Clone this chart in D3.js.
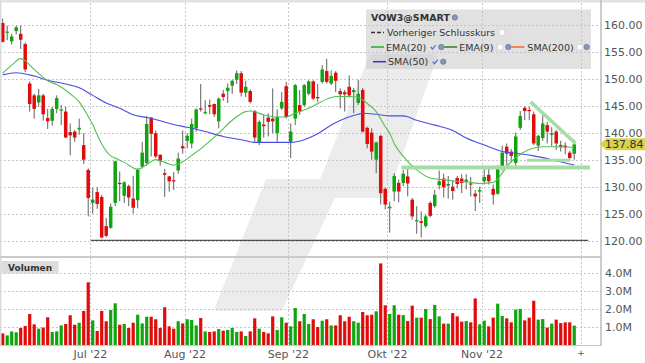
<!DOCTYPE html>
<html>
<head>
<meta charset="utf-8">
<script src="https://cdnjs.cloudflare.com/ajax/libs/d3/7.8.5/d3.min.js"></script>
<style>
  body { margin: 0; background: #fff; }
  svg { display: block; font-family: "DejaVu Sans", Verdana, sans-serif; }
</style>
</head>
<body>
<svg width="645" height="363"></svg>
<script>
// VOW3 daily candles, 3 Jun - 29 Nov 2022 (one entry per trading day)
var open = [160.3,158.6,156.9,158.8,158.3,156.4,149.1,146.9,145.6,146.9,142.7,142.2,144.4,144.1,143.9,140.1,140.2,140.6,137.7,133.1,
  127.0,129.0,128.1,122.7,122.4,127.0,130.7,128.3,130.1,127.8,127.5,133.7,134.4,142.8,139.9,135.9,132.5,131.9,131.2,133.0,137.5,
  138.5,138.0,140.8,144.5,143.7,145.1,145.3,142.1,147.2,147.7,148.7,149.8,151.0,147.4,147.7,144.0,138.2,141.5,142.8,142.6,139.9,144.5,148.6,
  138.3,142.6,145.1,145.1,147.2,149.5,146.6,149.4,151.4,149.1,151.1,147.7,147.5,148.5,147.5,145.5,147.9,140.9,140.0,135.0,139.4,129.6,
  126.0,129.1,130.7,130.7,131.9,127.6,123.6,123.6,122.7,127.0,126.4,130.3,131.5,130.2,130.0,131.6,131.5,130.9,130.6,128.7,129.1,
  131.0,132.2,129.6,128.7,133.7,137.4,136.5,134.4,140.9,144.6,144.2,143.4,137.6,139.0,141.4,139.6,140.2,137.7,137.6,136.3,136.1];
var high = [161.1,159.8,158.3,159.8,159.8,156.7,149.5,147.2,148.1,147.2,144.4,144.8,146.9,145.1,144.8,141.7,140.5,142.6,139.9,133.4,
  129.8,129.9,128.5,124.2,126.9,134.8,132.8,131.0,130.4,132.0,133.4,138.3,143.1,142.9,140.4,136.0,133.3,132.0,132.7,136.3,140.4,
  139.9,142.6,144.5,149.0,146.0,146.1,145.4,146.5,147.9,149.1,149.8,151.5,151.4,149.6,148.0,144.2,142.3,143.3,143.6,148.2,144.3,147.5,149.4,
  141.7,149.0,147.9,149.0,149.7,149.7,149.0,152.5,153.7,151.5,151.4,148.2,147.9,150.6,148.3,149.8,148.3,141.1,140.8,138.3,139.6,129.8,
  127.2,132.5,131.3,133.1,133.3,127.9,126.4,125.4,124.8,127.3,129.4,133.0,132.4,132.0,131.2,132.0,132.3,132.3,131.8,129.4,130.0,
  133.3,133.7,130.4,134.0,137.6,138.0,137.0,140.0,144.0,144.9,144.8,143.9,139.6,143.3,142.0,141.0,140.5,138.5,138.2,136.6,138.7];
var low = [156.7,157.1,156.3,158.2,155.5,151.2,143.9,142.6,144.8,142.2,140.7,141.3,143.6,141.4,139.0,135.8,138.3,139.6,134.2,124.5,
  125.0,125.9,120.4,120.6,122.2,126.4,127.3,127.0,126.4,125.0,126.0,133.4,133.9,135.6,135.3,133.9,128.1,129.1,129.4,132.4,136.1,
  137.1,137.1,140.2,143.9,143.4,143.4,142.9,140.8,145.9,145.5,147.2,149.0,146.7,146.6,145.4,138.3,137.7,139.1,139.3,139.9,138.3,144.2,142.6,
  135.3,141.4,143.3,144.8,146.9,146.0,145.7,149.1,149.1,148.8,147.5,144.5,143.9,146.5,143.6,145.1,140.0,137.1,135.0,132.5,126.7,125.8,
  121.5,127.3,127.1,130.1,128.2,123.9,121.3,120.6,122.4,124.3,126.1,129.5,128.0,127.8,127.6,129.7,128.8,129.5,128.2,125.5,127.0,
  130.4,130.4,126.7,128.5,133.0,134.0,134.5,133.7,140.5,142.3,142.3,137.7,136.6,138.5,138.0,137.5,136.8,136.5,136.0,134.8,135.0];
var close = [156.8,158.7,157.8,159.5,157.2,151.7,145.3,144.4,146.9,143.4,142.1,144.4,146.4,144.3,139.1,139.5,139.1,140.9,135.0,127.9,
  127.6,126.8,120.6,120.9,126.3,134.7,130.6,130.8,128.0,126.1,133.1,136.3,141.6,139.8,135.6,134.7,132.2,131.0,131.0,135.2,137.1,
  139.4,141.6,144.3,144.3,143.8,144.8,143.4,146.3,146.6,148.3,149.6,151.0,147.4,148.5,145.7,139.1,142.0,141.2,142.0,142.1,142.9,145.7,142.9,
  140.2,148.8,143.9,148.8,149.5,146.3,146.4,151.7,149.4,150.5,149.6,147.1,147.1,146.9,147.9,147.2,140.2,137.9,136.5,138.2,128.8,126.7,
  126.3,132.0,129.1,132.4,130.6,124.5,123.8,123.3,124.5,124.6,128.5,131.0,129.9,130.5,129.2,130.5,130.7,131.3,130.4,128.2,129.4,
  131.8,131.0,128.5,133.3,136.3,136.1,135.7,139.3,143.1,144.0,144.0,138.0,139.4,141.7,140.2,139.9,138.0,137.4,137.3,135.3,137.84];
// volume in millions
var volume = [0.64,0.53,0.75,0.70,0.94,1.05,1.71,1.14,0.90,0.96,1.53,0.72,0.75,1.08,1.16,1.64,1.12,1.23,1.88,3.46,
  1.36,0.77,1.88,1.31,1.93,2.30,1.12,1.16,0.94,1.23,1.67,1.19,1.56,1.56,1.42,0.94,2.08,1.03,0.90,1.31,1.19,
  1.42,1.38,1.08,1.49,0.75,0.72,0.75,0.88,0.79,0.83,0.94,0.72,0.75,0.50,0.75,1.47,0.90,0.72,0.64,1.58,0.83,1.53,1.23,
  1.03,2.04,1.31,1.71,1.16,1.42,0.99,1.34,1.42,1.08,1.08,1.64,1.31,1.56,1.31,1.23,1.82,1.64,1.67,1.86,4.50,2.19,
  1.71,2.19,1.67,1.65,1.32,2.17,1.51,1.51,1.99,1.43,2.21,1.58,1.18,1.18,1.76,1.58,1.29,1.32,1.25,2.57,1.14,
  1.34,1.03,1.51,2.28,1.60,1.47,1.25,1.95,1.99,1.36,1.51,2.44,1.40,1.43,0.96,1.18,1.40,1.21,1.25,1.25,1.07];

// moving averages: candle index -> value
var emaIdx = [0,2,4,5,7,10,12,15,17,19,20,21,22,24,25,27,30,32,34,36,38,40,42,44,48,51,54,55,58,61,63,65,68,70,73,74,77,79,81,83,85,86,87,89,92,95,98,101,104,106,109,110,111,112,114,117,120,123,127];
var emaVal = [151.0,152.5,153.7,153.3,151.7,149.6,148.9,147.2,145.7,143.0,141.5,139.6,137.9,135.7,135.3,134.5,133.2,134.1,135.0,134.5,134.0,134.6,135.8,137.0,139.9,142.3,143.9,144.0,143.3,142.9,142.9,143.6,144.5,145.4,146.5,146.7,146.7,146.5,145.4,143.9,141.1,139.9,138.0,135.6,133.1,131.6,131.3,131.0,130.8,130.6,130.8,131.4,132.5,133.7,135.4,136.9,137.4,137.4,137.3];
var smaIdx = [0,3,7,10,14,17,20,23,26,29,32,35,38,41,45,49,53,56,60,64,67,70,73,76,79,80,83,86,89,92,96,100,103,107,111,115,118,122,125,127];
var smaVal = [150.7,151.1,150.5,149.7,149.0,148.3,146.9,145.5,144.5,143.3,142.8,142.2,141.5,141.0,140.2,139.3,138.7,138.2,138.2,138.2,138.7,139.8,141.4,142.6,143.4,143.6,143.4,143.1,143.1,142.3,141.4,140.4,139.0,137.7,136.5,136.1,135.7,135.0,134.4,134.0];

var priceTicks = [120, 125, 130, 135, 140, 145, 150, 155, 160];
var volTicks = [1, 2, 3, 4];
var monthLabels = ["Jul '22", "Aug '22", "Sep '22", "Okt '22", "Nov '22", "+"];
var monthStart = [20, 41, 64, 86, 107, 129];

// hand drawn lines on the chart: [index0, price0, index1, price1]
var supportLine = [19.6, 120.05, 130.1, 120.05];
var rangeLine = [88.6, 133.55, 130.5, 133.55];
var shortLine = [116.5, 134.9, 126.1, 134.9];
var wedgeLine = [117.3, 145.7, 127.3, 138.0];

var svg = d3.select("svg");
var plotR = 601;
var up = "#0ea50e", down = "#e00c0c";

var x = d3.scaleLinear().domain([-0.6, 132.95]).range([0, plotR]);
var y = d3.scaleLinear().domain([117.17, 164.0]).range([256, 3]);
var yv = d3.scaleLinear().domain([0, 4.8]).range([345, 258]);

svg.append("rect").attr("width", 645).attr("height", 363).attr("fill", "#fff");

// watermark logo in the background
svg.append("path")
  .attr("d", "M218,308 L268,182 L322,182 L372,57 L434,57 L385,195 L333,195 L280,308 Z")
  .attr("fill", "#ececec").attr("stroke", "#ececec")
  .attr("stroke-width", 6).attr("stroke-linejoin", "round");

// grid
var grid = svg.append("g").attr("stroke", "#c6c6c6").attr("stroke-dasharray", "2,2").attr("stroke-width", 1);
grid.selectAll(".hp").data(priceTicks).enter().append("line")
  .attr("x1", 0).attr("x2", 604)
  .attr("y1", d => Math.round(y(d)) + 0.5).attr("y2", d => Math.round(y(d)) + 0.5);
grid.selectAll(".hv").data(volTicks).enter().append("line")
  .attr("x1", 0).attr("x2", 604)
  .attr("y1", d => Math.round(yv(d)) + 0.5).attr("y2", d => Math.round(yv(d)) + 0.5);
grid.selectAll(".vm").data(monthStart).enter().append("line")
  .attr("x1", d => Math.round(x(d - 0.5)) + 0.5).attr("x2", d => Math.round(x(d - 0.5)) + 0.5)
  .attr("y1", 3).attr("y2", 256);
grid.selectAll(".vv").data(monthStart).enter().append("line")
  .attr("x1", d => Math.round(x(d - 0.5)) + 0.5).attr("x2", d => Math.round(x(d - 0.5)) + 0.5)
  .attr("y1", 258).attr("y2", 345);

// legend box (semi transparent so the logo shows through)
svg.append("rect").attr("x", 366).attr("y", 9.5).attr("width", 225).attr("height", 59.5)
  .attr("fill", "#c4c4c4").attr("opacity", 0.5);

var candles = open.map(function(o, i) {
  return { i: i, o: o, h: high[i], l: low[i], c: close[i], v: volume[i] };
});

svg.append("clipPath").attr("id", "plot").append("rect")
  .attr("x", 0).attr("y", 3).attr("width", plotR).attr("height", 253);

// volume bars
svg.append("g").selectAll("rect").data(candles).enter().append("rect")
  .attr("x", d => x(d.i) - 1.6).attr("width", 3.2)
  .attr("y", d => yv(d.v)).attr("height", d => yv(0) - yv(d.v))
  .attr("fill", d => d.c >= d.o ? up : down);

// candles
var cg = svg.append("g").attr("clip-path", "url(#plot)");
cg.selectAll(".wick").data(candles).enter().append("line")
  .attr("x1", d => x(d.i)).attr("x2", d => x(d.i))
  .attr("y1", d => y(d.h)).attr("y2", d => y(d.l))
  .attr("stroke", "#606060").attr("stroke-width", 1);
cg.selectAll(".body").data(candles).enter().append("rect")
  .attr("x", d => x(d.i) - 1.75).attr("width", 3.5)
  .attr("y", d => y(Math.max(d.o, d.c)))
  .attr("height", d => Math.max(1.2, Math.abs(y(d.o) - y(d.c))))
  .attr("fill", d => d.c >= d.o ? up : down);

// moving averages
var maLine = d3.line().x(d => x(d[0])).y(d => y(d[1])).curve(d3.curveMonotoneX);
cg.append("path").datum(d3.zip(smaIdx, smaVal)).attr("d", maLine)
  .attr("fill", "none").attr("stroke", "#4b4be6").attr("stroke-width", 1.1);
cg.append("path").datum(d3.zip(emaIdx, emaVal)).attr("d", maLine)
  .attr("fill", "none").attr("stroke", "#52c052").attr("stroke-width", 1.1);

// drawings
function drawSeg(s, color, w) {
  svg.append("line")
    .attr("x1", x(s[0])).attr("y1", y(s[1])).attr("x2", x(s[2])).attr("y2", y(s[3]))
    .attr("stroke", color).attr("stroke-width", w);
}
drawSeg(rangeLine, "#a6dca6", 4);
drawSeg(shortLine, "#a6dca6", 3);
drawSeg(wedgeLine, "#a6dca6", 3.5);
drawSeg(supportLine, "#505050", 1.3);

// frame
svg.append("rect").attr("x", 0).attr("y", 0).attr("width", 645).attr("height", 2.5).attr("fill", "#e2e2e2");
svg.append("line").attr("x1", 0.75).attr("x2", 0.75).attr("y1", 0).attr("y2", 345).attr("stroke", "#dcdcdc").attr("stroke-width", 1.5);
svg.append("line").attr("x1", 0).attr("x2", plotR).attr("y1", 257).attr("y2", 257).attr("stroke", "#cacaca").attr("stroke-width", 2);
svg.append("line").attr("x1", 0).attr("x2", plotR).attr("y1", 345.5).attr("y2", 345.5).attr("stroke", "#c8c8c8").attr("stroke-width", 1);
svg.append("line").attr("x1", plotR).attr("x2", plotR).attr("y1", 0).attr("y2", 346).attr("stroke", "#bdbdbd").attr("stroke-width", 1.5);

// price axis labels
svg.append("g").selectAll("text").data(priceTicks).enter().append("text")
  .attr("x", 604).attr("y", d => y(d) + 4)
  .attr("font-size", 11).attr("fill", "#555")
  .text(d => d3.format(".2f")(d));
svg.append("g").selectAll("text").data(volTicks).enter().append("text")
  .attr("x", 605).attr("y", d => yv(d) + 4)
  .attr("font-size", 11).attr("fill", "#555")
  .text(d => d3.format(".1f")(d) + "M");

// month labels
svg.append("g").selectAll("text").data(monthLabels).enter().append("text")
  .attr("x", (d, i) => x(monthStart[i] - 0.5))
  .attr("y", (d, i) => d == "+" ? 356 : 358)
  .attr("text-anchor", "middle")
  .attr("font-size", (d) => d == "+" ? 9 : 11).attr("fill", "#555")
  .text(d => d);

// last price tag
var lastY = y(close[close.length - 1]);
svg.append("path")
  .attr("d", "M600," + lastY + " L606," + (lastY - 6) + " L645," + (lastY - 6) + " L645," + (lastY + 6) + " L606," + (lastY + 6) + " Z")
  .attr("fill", "#d6d44c");
svg.append("text").attr("x", 605).attr("y", lastY + 4)
  .attr("font-size", 11).attr("fill", "#333")
  .text(d3.format(".2f")(close[close.length - 1]));

// volume panel title
svg.append("rect").attr("x", 1.5).attr("y", 261).attr("width", 57).attr("height", 12.5).attr("fill", "#dcdcdc");
svg.append("text").attr("x", 8).attr("y", 271).attr("font-size", 9).attr("font-weight", "bold")
  .attr("fill", "#333").text("Volumen");

// legend rows
var lg = svg.append("g");
function globe(cx, cy) {
  lg.append("circle").attr("cx", cx).attr("cy", cy).attr("r", 2.7)
    .attr("fill", "#8597b8").attr("stroke", "#5b6d91").attr("stroke-width", 0.6);
}
function tick(cx, cy) {
  lg.append("path").attr("d", "M" + (cx - 2.5) + "," + cy + " l1.8,2 l3.2,-4")
    .attr("fill", "none").attr("stroke", "#4a6fd0").attr("stroke-width", 1.2);
}
function box(cx, cy) {
  lg.append("rect").attr("x", cx - 2.5).attr("y", cy - 2.5).attr("width", 5).attr("height", 5)
    .attr("fill", "#fff").attr("stroke", "#d0d0d0").attr("stroke-width", 0.5);
}
function swatch(x0, cy, color, dash) {
  lg.append("line").attr("x1", x0).attr("x2", x0 + 13).attr("y1", cy).attr("y2", cy)
    .attr("stroke", color).attr("stroke-width", 1.5).attr("stroke-dasharray", dash || null);
  return x0 + 15;
}
function label(x0, cy, txt, bold, len) {
  var t = lg.append("text").attr("x", x0).attr("y", cy + 3.5).attr("font-size", 9.5)
    .attr("font-weight", bold ? "bold" : "normal").attr("fill", "#333").text(txt);
  if (len) t.attr("textLength", len).attr("lengthAdjust", "spacingAndGlyphs");
  return x0 + (len || t.node().getComputedTextLength());
}

var cx = label(371, 17.5, "VOW3@SMART", true);
globe(cx + 5, 17.5);

cx = swatch(371, 32.5, "#333", "4,2");
cx = label(cx + 1, 32.5, "Vorheriger Schlusskurs", false, 108);
box(cx + 7, 32.5);

cx = swatch(371, 47, "#2ea82e");
cx = label(cx, 47, "EMA(20)");
tick(cx + 7, 47); globe(cx + 15, 47);
cx = swatch(cx + 18, 47, "#2f7f2f");
cx = label(cx, 47, "EMA(9)");
box(cx + 7, 47); globe(cx + 15, 47);
cx = swatch(cx + 18, 47, "#f26a1b");
cx = label(cx + 1, 47, "SMA(200)");
box(cx + 6, 47); globe(cx + 13, 47);

cx = swatch(373, 61.7, "#3434c8");
cx = label(cx, 61.7, "SMA(50)");
tick(cx + 7, 61.7); globe(cx + 15, 61.7);
</script>
</body>
</html>
